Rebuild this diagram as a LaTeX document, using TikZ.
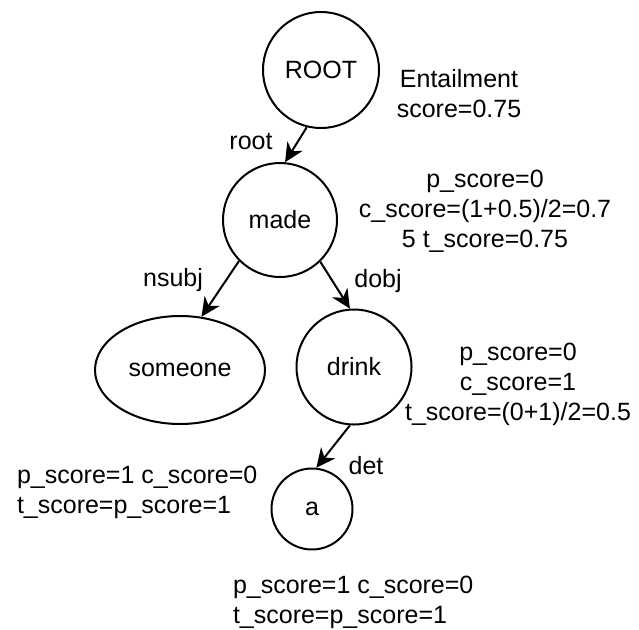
\documentclass[tikz,border=0pt]{standalone}
\usepackage{fontspec}
\setmainfont{Liberation Sans}
\usetikzlibrary{arrows.meta,positioning,shapes.geometric}

\begin{document}
\begin{tikzpicture}[x=1pt,y=1pt,>={Stealth[length=19pt,width=18pt,inset=6pt]},line width=2pt,on grid,
		every node/.style={font=\fontsize{25}{30}\selectfont,inner sep=0pt},
		word/.style={circle,draw},
		dep/.style={anchor=base},
		info/.style={align=center,anchor=base}]
	\useasboundingbox (0,0) rectangle (639,-629);
	\node[word,minimum size=116pt] (root) at (321,-70) {ROOT};
	\node[word,minimum size=114pt] (made) [below left=150pt and 41pt of root] {made};
	\node[word,ellipse,minimum width=170pt,minimum height=108pt] (someone) [below left=150pt and 100pt of made] {someone};
	\node[word,minimum size=115pt] (drink) [below right=147pt and 74pt of made] {drink};
	\node[word,minimum size=81pt] (a) [below left=142pt and 42pt of drink] {a};
	\path[->]
		(root.256) edge (made.85)
		(made.225) edge (someone.68)
		(made.314) edge (drink.94)
		(drink.266) edge (a.84);
	% dependency labels
	\node[dep] (l_root) at (251,-149) {root};
	\node[dep] (l_nsubj) at (173,-286) {nsubj};
	\node[dep] (l_dobj) at (378,-287) {dobj};
	\node[dep] (l_det) at (366,-474) {det};
	% scores (base = last line)
	\node[info] (s_root) at (459,-117) {Entailment\\score=0.75};
	\node[info] (s_made) at (485,-247) {p\_score=0\\c\_score=(1+0.5)/2=0.7\\5 t\_score=0.75};
	\node[info] (s_drink) at (518,-420) {p\_score=0\\c\_score=1\\t\_score=(0+1)/2=0.5};
	\node[info,align=left,anchor=base west] (s_someone) at (16,-513) {p\_score=1 c\_score=0\\t\_score=p\_score=1};
	\node[info,align=left,anchor=base west] (s_a) at (232,-623) {p\_score=1 c\_score=0\\t\_score=p\_score=1};
\end{tikzpicture}
\end{document}
